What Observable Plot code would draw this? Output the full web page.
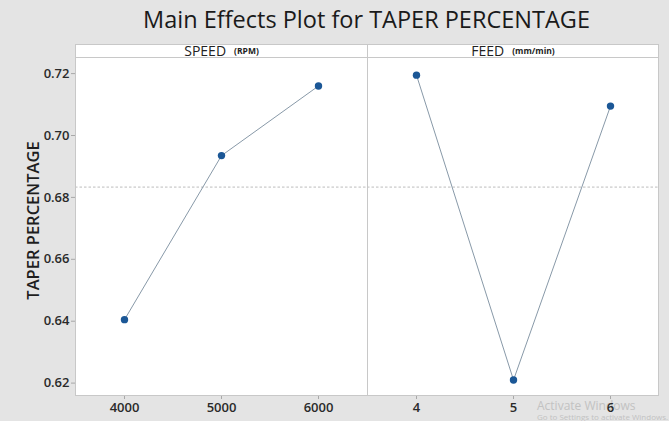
<!DOCTYPE html>
<html><head><meta charset="utf-8">
<script src="https://cdn.jsdelivr.net/npm/d3@7"></script>
<script src="https://cdn.jsdelivr.net/npm/@observablehq/plot@0.6"></script>
<style>
html,body{margin:0;padding:0;background:#e4e4e4;}
#wrap{position:relative;width:669px;height:421px;overflow:hidden;font-family:"Open Sans",sans-serif;background:#e4e4e4;}
#title{position:absolute;left:75px;width:583px;top:3px;text-align:center;font-size:23.5px;font-weight:normal;color:#1a1a1a;white-space:nowrap;}
.strip{position:absolute;top:44px;height:14px;box-sizing:border-box;background:#fff;border:1px solid #c8c8c8;text-align:center;font-size:14px;line-height:11px;color:#222;white-space:nowrap;}
.strip small{font-size:8.5px;font-weight:bold;margin-left:8px;vertical-align:top;line-height:12px;}
.panel{position:absolute;top:57px;z-index:2;}
#wm{position:absolute;left:537px;top:399px;color:#c2c2c2;font-size:12px;line-height:13px;z-index:1;white-space:nowrap;}
#wm div{font-size:8px;line-height:10px;}
</style></head>
<body>
<div id="wrap">
  <div id="title">Main Effects Plot for TAPER PERCENTAGE</div>
  <div class="strip" style="left:75px;width:293px;">SPEED<small>(RPM)</small></div>
  <div class="strip" style="left:367px;width:292px;">FEED<small>(mm/min)</small></div>
  <div id="wm">Activate Windows<div>Go to Settings to activate Windows.</div></div>
  <div id="left" class="panel" style="left:0px;"></div>
  <div id="right" class="panel" style="left:367px;"></div>
</div>
<script>
// ---- data ----
const speedLevels = ["4000", "5000", "6000"];
const speedMeans  = [0.6405, 0.6935, 0.7160];
const feedLevels  = ["4", "5", "6"];
const feedMeans   = [0.7195, 0.6210, 0.7095];
const yTicks      = [0.62, 0.64, 0.66, 0.68, 0.70, 0.72];
const yLabel      = "TAPER PERCENTAGE";

const grandMean = d3.mean(speedMeans.concat(feedMeans));
const yDomain = [0.6160, 0.7252];

const lineColor = "#8899a8";
const dotColor = "#1b5796";
const frameColor = "#c8c8c8";
const tickColor = "#a8a8a8";
const textColor = "#2a2a2a";

function panel(levels, means, opts) {
  const data = levels.map((l, i) => ({level: l, mean: means[i]}));
  const marks = [
    Plot.frame({fill: "white", stroke: "none"}),
    Plot.ruleY([grandMean], {stroke: "#ababab", strokeWidth: 0.8, strokeDasharray: "2.5,2"}),
    Plot.line(data, {x: "level", y: "mean", stroke: lineColor, strokeWidth: 1}),
    Plot.dot(data, {x: "level", y: "mean", r: 3.7, fill: dotColor, stroke: "none"}),
    Plot.axisX({tickSize: 4, tickPadding: 3, stroke: tickColor, fill: textColor, fontSize: 13, fontWeight: 600, label: null})
  ];
  if (opts.yAxis) {
    marks.push(
      Plot.axisY({ticks: yTicks, tickFormat: d3.format(".2f"), tickSize: 4, tickPadding: 2,
                  stroke: tickColor, fill: textColor, fontSize: 13, fontWeight: 600, label: null}),
      Plot.text([yLabel], {frameAnchor: "left", textAnchor: "middle", rotate: -90, dx: -42, dy: -6,
                           fontSize: 16.5, fontWeight: 600, fill: "#1e1e1e"})
    );
  }
  marks.push(Plot.frame({stroke: frameColor}));
  return Plot.plot({
    width: opts.width, height: 364,
    marginLeft: opts.marginLeft, marginRight: opts.marginRight, marginTop: 0, marginBottom: 26,
    style: {background: "transparent", overflow: "visible", fontFamily: "'Open Sans', sans-serif"},
    x: {type: "point", domain: levels, padding: 0.5},
    y: {domain: yDomain, axis: opts.yAxis ? undefined : null},
    marks
  });
}

document.getElementById("left").append(panel(speedLevels, speedMeans, {width: 367, marginLeft: 75, marginRight: 0, yAxis: true}));
document.getElementById("right").append(panel(feedLevels, feedMeans, {width: 302, marginLeft: 0, marginRight: 11, yAxis: false}));
</script>
</body></html>
